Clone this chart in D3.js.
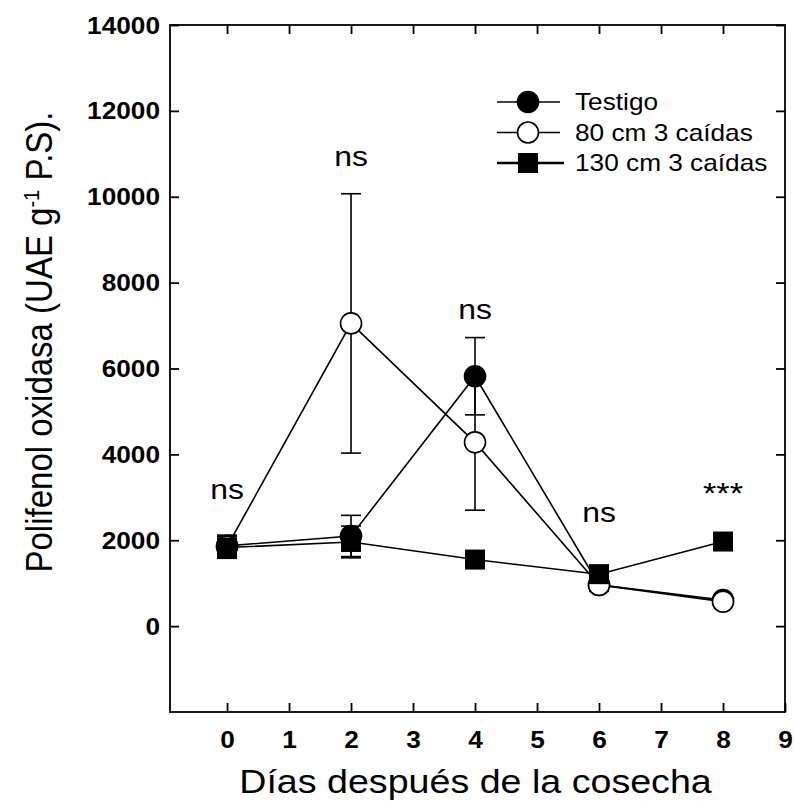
<!DOCTYPE html>
<html><head><meta charset="utf-8">
<script src="https://cdn.jsdelivr.net/npm/d3@7"></script>
<style>body{margin:0;background:#fff}svg{display:block}text{font-family:"Liberation Sans",Arial,sans-serif}</style>
</head><body>
<script>
const days = [0, 2, 4, 6, 8];
const testigo = [1870, 2100, 5820, 960, 610];
const testigoErr = [250, 480, 900, 150, 80];
const cm80 = [1850, 7050, 4280, 960, 570];
const cm80Err = [250, 3020, 1580, 120, 80];
const cm130 = [1830, 1960, 1550, 1210, 1970];
const cm130Err = [250, 370, 80, 200, 60];
const annotations = [
  {x: 0, label: "ns", y: 2950},
  {x: 2, label: "ns", y: 10720},
  {x: 4, label: "ns", y: 7160},
  {x: 6, label: "ns", y: 2420},
  {x: 8, label: "***", y: 2860}
];
const xTicks = [0,1,2,3,4,5,6,7,8,9];
const yTicks = [0,2000,4000,6000,8000,10000,12000,14000];
const legendLabels = ["Testigo", "80 cm 3 caídas", "130 cm 3 caídas"];

const W = 794, H = 801;
const L = 170, R = 785, T = 25, B = 712;
const SX = 1.14; // horizontal glyph stretch seen in the reference
const svg = d3.select("body").append("svg").attr("width", W).attr("height", H);
const x = d3.scaleLinear().domain([-0.92, 9]).range([L, R]);
const y = d3.scaleLinear().domain([-2000, 14000]).range([B, T]);

svg.append("rect").attr("x", L).attr("y", T).attr("width", R - L).attr("height", B - T)
  .attr("fill", "none").attr("stroke", "#000").attr("stroke-width", 1.8);

const tickLen = 9;
const ax = svg.append("g").attr("transform", `translate(0,${B})`)
  .call(d3.axisBottom(x).tickValues(xTicks).tickFormat(d3.format("d")).tickSizeInner(-tickLen).tickSizeOuter(0).tickPadding(20));
const axT = svg.append("g").attr("transform", `translate(0,${T})`)
  .call(d3.axisTop(x).tickValues(xTicks.slice(0, 9)).tickSizeInner(-tickLen).tickSizeOuter(0).tickFormat(""));
const ay = svg.append("g").attr("transform", `translate(${L},0)`)
  .call(d3.axisLeft(y).tickValues(yTicks).tickFormat(d3.format("d")).tickSizeInner(-tickLen).tickSizeOuter(0).tickPadding(10));
const ayR = svg.append("g").attr("transform", `translate(${R},0)`)
  .call(d3.axisRight(y).tickValues(yTicks).tickSizeInner(-tickLen).tickSizeOuter(0).tickFormat(""));
[ax, axT, ay, ayR].forEach(g => {
  g.select(".domain").remove();
  g.selectAll(".tick line").attr("stroke", "#000").attr("stroke-width", 1.8);
  g.selectAll("text").attr("font-family", "Liberation Sans, Arial, sans-serif")
    .attr("font-weight", "bold").attr("font-size", 23).attr("fill", "#000");
});
ax.selectAll(".tick text").each(function() {
  const t = d3.select(this);
  const yy = +t.attr("y");
  t.attr("y", 0).attr("transform", `translate(0,${yy}) scale(${SX},1)`);
});
ay.selectAll(".tick text").each(function() {
  const t = d3.select(this);
  const xx = +t.attr("x");
  t.attr("x", 0).attr("dy", "0.35em").attr("transform", `translate(${xx},0) scale(${SX},1)`);
});

// titles
svg.append("text").attr("transform", `translate(${(L + R) / 2 - 2},793) scale(${SX},1)`)
  .attr("text-anchor", "middle").attr("font-size", 33).text("Días después de la cosecha");
const yt = svg.append("text").attr("transform", `translate(52,342) scale(${SX},1) rotate(-90)`)
  .attr("text-anchor", "middle").attr("font-size", 33);
yt.append("tspan").text("Polifenol oxidasa (UAE g");
yt.append("tspan").attr("baseline-shift", "super").attr("font-size", 20).text("-1");
yt.append("tspan").text(" P.S).");

// series
const series = [
  {vals: testigo, err: testigoErr, shape: "circle", fill: "#000"},
  {vals: cm80, err: cm80Err, shape: "circle", fill: "#fff"},
  {vals: cm130, err: cm130Err, shape: "square", fill: "#000"}
];
const line = d3.line().x(d => x(d[0])).y(d => y(d[1]));
series.forEach(s => {
  const pts = days.map((d, i) => [d, s.vals[i]]);
  svg.append("path").datum(pts).attr("d", line).attr("fill", "none").attr("stroke", "#000").attr("stroke-width", 1.6);
});
series.forEach(s => {
  const g = svg.append("g");
  days.forEach((d, i) => {
    const cx = x(d), v = s.vals[i], e = s.err[i];
    const y1 = y(v + e), y2 = y(v - e);
    g.append("line").attr("x1", cx).attr("x2", cx).attr("y1", y1).attr("y2", y2).attr("stroke", "#000").attr("stroke-width", 1.6);
    [y1, y2].forEach(yy => g.append("line").attr("x1", cx - 10).attr("x2", cx + 10).attr("y1", yy).attr("y2", yy).attr("stroke", "#000").attr("stroke-width", 1.6));
  });
});
function marker(g, shape, fill, cx, cy) {
  if (shape === "circle") {
    g.append("circle").attr("cx", cx).attr("cy", cy).attr("r", 10.5).attr("fill", fill).attr("stroke", "#000").attr("stroke-width", 1.6);
  } else {
    g.append("rect").attr("x", cx - 10).attr("y", cy - 10).attr("width", 20).attr("height", 20).attr("fill", fill);
  }
}
series.forEach(s => {
  const g = svg.append("g");
  days.forEach((d, i) => marker(g, s.shape, s.fill, x(d), y(s.vals[i])));
});

annotations.forEach(a => {
  svg.append("text").attr("transform", `translate(${x(a.x)},${y(a.y)}) scale(${SX},1)`)
    .attr("text-anchor", "middle").attr("font-size", a.label === "***" ? 30 : 28).text(a.label);
});

// legend
const lg = svg.append("g");
legendLabels.forEach((lab, i) => {
  const ly = 102 + i * 30.5;
  const s = series[i];
  lg.append("line").attr("x1", 497).attr("x2", i === 2 ? 564 : 560).attr("y1", ly).attr("y2", ly)
    .attr("stroke", "#000").attr("stroke-width", i === 2 ? 2.4 : 1.6);
  marker(lg, s.shape, s.fill, 528, ly);
  lg.append("text").attr("transform", `translate(575,${ly}) scale(${SX},1)`).attr("dy", "0.35em").attr("font-size", 23).text(lab);
});
</script>
</body></html>
